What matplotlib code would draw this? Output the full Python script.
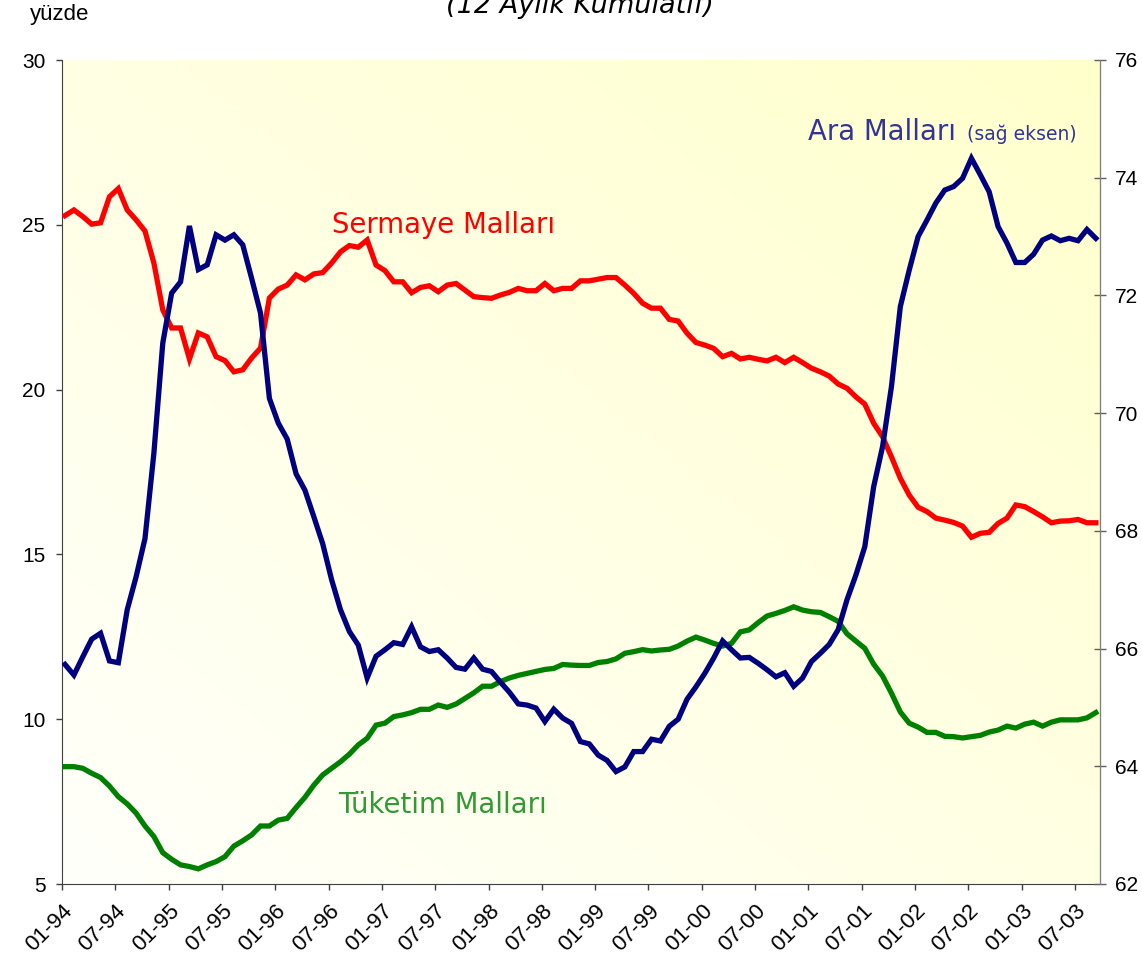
import numpy as np
import matplotlib
matplotlib.use("Agg")
import matplotlib.pyplot as plt
from matplotlib.colors import LinearSegmentedColormap

# monthly data, 01-94 .. 09-03
sermaye = [25.28, 25.45, 25.25, 25.02, 25.06, 25.85, 26.10, 25.45, 25.15, 24.81,
           23.84, 22.42, 21.87, 21.87, 20.93, 21.72, 21.60, 21.00, 20.88, 20.54,
           20.60, 20.96, 21.26, 22.78, 23.05, 23.17, 23.48, 23.33, 23.51, 23.55,
           23.84, 24.18, 24.37, 24.32, 24.54, 23.78, 23.61, 23.27, 23.27, 22.94,
           23.10, 23.15, 22.97, 23.17, 23.22, 23.02, 22.82, 22.79, 22.77, 22.87,
           22.95, 23.07, 23.00, 23.00, 23.22, 23.00, 23.07, 23.07, 23.30, 23.30,
           23.35, 23.40, 23.40, 23.17, 22.92, 22.62, 22.47, 22.47, 22.13, 22.08,
           21.71, 21.43, 21.35, 21.25, 21.00, 21.10, 20.93, 20.98, 20.92, 20.87,
           20.98, 20.82, 20.98, 20.82, 20.65, 20.54, 20.41, 20.17, 20.04, 19.78,
           19.56, 18.98, 18.57, 17.96, 17.31, 16.80, 16.43, 16.30, 16.10, 16.04,
           15.97, 15.86, 15.52, 15.64, 15.67, 15.94, 16.10, 16.50, 16.45, 16.30,
           16.14, 15.96, 16.01, 16.02, 16.06, 15.96, 15.96]
tuketim = [8.56, 8.56, 8.51, 8.36, 8.23, 7.97, 7.65, 7.43, 7.15, 6.76,
           6.44, 5.95, 5.75, 5.58, 5.53, 5.46, 5.58, 5.68, 5.83, 6.15,
           6.31, 6.49, 6.76, 6.76, 6.94, 6.99, 7.32, 7.63, 8.00, 8.31,
           8.51, 8.71, 8.94, 9.22, 9.42, 9.82, 9.88, 10.08, 10.13, 10.20,
           10.30, 10.30, 10.43, 10.36, 10.46, 10.63, 10.80, 11.00, 11.00, 11.14,
           11.25, 11.33, 11.39, 11.45, 11.51, 11.54, 11.66, 11.64, 11.63, 11.63,
           11.72, 11.75, 11.83, 12.00, 12.05, 12.11, 12.07, 12.10, 12.12, 12.22,
           12.37, 12.49, 12.40, 12.30, 12.22, 12.30, 12.65, 12.71, 12.93, 13.13,
           13.21, 13.30, 13.41, 13.31, 13.26, 13.24, 13.11, 12.97, 12.59, 12.37,
           12.15, 11.67, 11.31, 10.79, 10.22, 9.88, 9.76, 9.60, 9.60, 9.48,
           9.47, 9.43, 9.47, 9.51, 9.61, 9.67, 9.79, 9.73, 9.85, 9.91,
           9.79, 9.91, 9.98, 9.98, 9.98, 10.04, 10.20]
ara = [65.73, 65.55, 65.86, 66.16, 66.26, 65.79, 65.76, 66.66, 67.22, 67.87,
       69.32, 71.19, 72.04, 72.23, 73.18, 72.44, 72.52, 73.03, 72.94, 73.03,
       72.86, 72.29, 71.70, 70.25, 69.83, 69.56, 68.97, 68.69, 68.24, 67.78,
       67.17, 66.66, 66.29, 66.06, 65.50, 65.87, 65.98, 66.10, 66.07, 66.37,
       66.03, 65.95, 65.98, 65.84, 65.68, 65.65, 65.84, 65.65, 65.61, 65.43,
       65.26, 65.06, 65.04, 64.99, 64.76, 64.97, 64.82, 64.73, 64.42, 64.38,
       64.19, 64.10, 63.91, 63.99, 64.25, 64.25, 64.46, 64.43, 64.68, 64.80,
       65.14, 65.35, 65.58, 65.84, 66.13, 65.98, 65.84, 65.85, 65.75, 65.64,
       65.52, 65.59, 65.36, 65.50, 65.78, 65.92, 66.07, 66.32, 66.83, 67.25,
       67.73, 68.75, 69.43, 70.45, 71.81, 72.43, 73.00, 73.28, 73.57, 73.79,
       73.85, 73.99, 74.33, 74.05, 73.76, 73.17, 72.89, 72.56, 72.56, 72.70,
       72.94, 73.01, 72.93, 72.97, 72.93, 73.12, 72.97]
xlabels = ["01-94", "07-94", "01-95", "07-95", "01-96", "07-96", "01-97", "07-97",
           "01-98", "07-98", "01-99", "07-99", "01-00", "07-00", "01-01", "07-01",
           "01-02", "07-02", "01-03", "07-03"]

W, H = 1142, 955
fig = plt.figure(figsize=(W/100, H/100), dpi=100)
ax = fig.add_axes([62/W, 1-884/H, 1038/W, 824/H])
x = np.arange(len(sermaye))
off = 0.34

# background gradient, white bottom-left -> pale yellow top-right
gx, gy = np.meshgrid(np.linspace(0, 1, 200), np.linspace(1, 0, 200))
cm = LinearSegmentedColormap.from_list("bg", ["#fffffb", "#ffffcc"])
ax.imshow((gx+gy)/2, cmap=cm, vmin=0, vmax=1, extent=[0, 1, 0, 1], transform=ax.transAxes,
          aspect="auto", zorder=0, interpolation="bilinear")

ax.plot(x, sermaye, color="#ff0000", lw=3.8, zorder=3, solid_joinstyle="miter")
ax.plot(x, tuketim, color="#008000", lw=3.8, zorder=3, solid_joinstyle="miter")
ax.set_xlim(-off, 116.47); ax.set_ylim(5, 30)
ax.set_yticks([5, 10, 15, 20, 25, 30])
ax.set_xticks(np.arange(0, 117, 6) - off)
ax.set_xticklabels(xlabels, rotation=45, ha="right", va="top", rotation_mode="anchor")
ax.tick_params(axis="y", direction="out", length=4, width=1, color="#404040", labelsize=15, pad=8)
ax.tick_params(axis="x", direction="out", length=4, width=1, color="#404040", labelsize=16, pad=8)
for lab in ax.get_xticklabels() + ax.get_yticklabels():
    lab.set_fontfamily("Liberation Sans")

ax2 = ax.twinx()
ax2.plot(x, ara, color="#000080", lw=3.8, zorder=3, solid_joinstyle="miter")
ax2.set_ylim(62, 76); ax2.set_yticks(range(62, 77, 2))
ax2.tick_params(axis="y", direction="inout", length=9, width=1, color="#606060", labelsize=15, pad=6)
for lab in ax2.get_yticklabels():
    lab.set_fontfamily("Liberation Sans")

for a in (ax, ax2):
    a.spines["top"].set_visible(False)
ax.spines["left"].set_color("#404040"); ax.spines["bottom"].set_color("#404040")
ax2.spines["right"].set_color("#808080")
ax2.spines["left"].set_visible(False); ax2.spines["bottom"].set_visible(False)

ft = lambda px, py: (px/W, 1-py/H)
fig.text(*ft(332, 233), "Sermaye Malları", color="#ff0000", fontsize=19.8, family="DejaVu Sans")
fig.text(*ft(338, 813), "Tüketim Malları", color="#339933", fontsize=19.8, family="DejaVu Sans")
fig.text(*ft(808, 140), "Ara Malları", color="#333399", fontsize=19.8, family="DejaVu Sans")
fig.text(*ft(967, 140), "(sağ eksen)", color="#333399", fontsize=13.5, family="DejaVu Sans")
fig.text(*ft(30, 20), "yüzde", fontsize=16, family="Liberation Sans")
fig.text(*ft(580, 13), "(12 Aylık Kümülatif)", fontsize=19.5, style="italic", ha="center",
         family="DejaVu Sans")

fig.savefig("out.png", dpi=100)
